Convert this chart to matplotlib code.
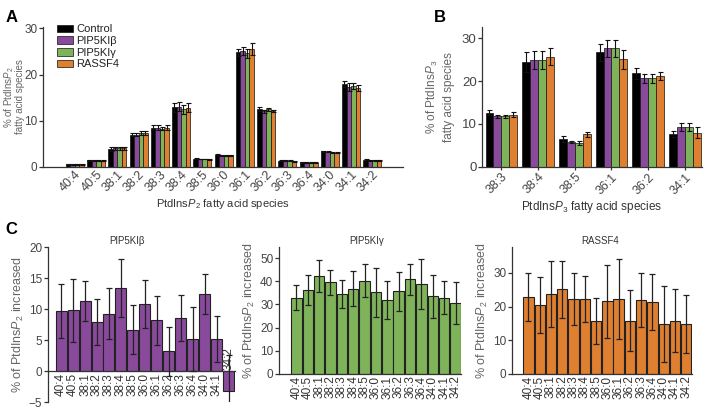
import matplotlib
matplotlib.use("Agg")
import matplotlib.pyplot as plt
import numpy as np

plt.rcParams['font.family'] = ['Liberation Sans', 'DejaVu Sans']
plt.rcParams['mathtext.fontset'] = 'custom'
plt.rcParams['mathtext.rm'] = 'Liberation Sans'
plt.rcParams['mathtext.it'] = 'Liberation Sans:italic'

# groups / colours
groups = ['Control', 'PIP5KIβ', 'PIP5KIγ', 'RASSF4']
colors = ['#000000', '#8a4a9c', '#7fb35a', '#df7f30']

# panel A: PtdInsP2 species (% of total)
species_a = ['40:4', '40:5', '38:1', '38:2', '38:3', '38:4', '38:5', '36:0',
             '36:1', '36:2', '36:3', '36:4', '34:0', '34:1', '34:2']
a_control = [0.6, 1.4, 3.8, 7.0, 8.5, 12.9, 1.8, 2.6, 24.8, 12.5, 1.3, 1.0, 3.4, 17.9, 1.5]
a_beta = [0.6, 1.3, 4.0, 7.0, 8.5, 13.0, 1.7, 2.5, 25.1, 12.0, 1.3, 0.9, 3.3, 17.3, 1.3]
a_gamma = [0.6, 1.3, 4.0, 7.3, 8.3, 12.5, 1.7, 2.5, 24.6, 12.5, 1.3, 0.9, 3.2, 17.5, 1.4]
a_rassf = [0.6, 1.3, 4.0, 7.3, 8.5, 12.8, 1.6, 2.5, 25.5, 12.1, 1.2, 0.9, 3.1, 17.1, 1.4]
a_control_err = [0.1, 0.1, 0.4, 0.4, 0.5, 1.0, 0.1, 0.1, 0.7, 0.5, 0.1, 0.1, 0.1, 0.7, 0.1]
a_beta_err = [0.1, 0.1, 0.4, 0.4, 0.5, 1.0, 0.1, 0.1, 0.8, 0.4, 0.1, 0.1, 0.1, 0.8, 0.1]
a_gamma_err = [0.1, 0.1, 0.4, 0.4, 0.4, 1.0, 0.1, 0.1, 1.0, 0.3, 0.1, 0.1, 0.1, 0.6, 0.1]
a_rassf_err = [0.1, 0.1, 0.4, 0.4, 0.5, 1.0, 0.1, 0.1, 1.3, 0.3, 0.1, 0.1, 0.1, 0.6, 0.1]

# panel B: PtdInsP3 species
species_b = ['38:3', '38:4', '38:5', '36:1', '36:2', '34:1']
b_control = [12.6, 24.5, 6.6, 26.7, 21.8, 7.6]
b_beta = [11.8, 24.9, 5.8, 27.6, 20.6, 9.3]
b_gamma = [11.8, 24.9, 5.5, 27.6, 20.6, 9.3]
b_rassf = [12.2, 25.7, 7.6, 25.1, 21.2, 8.0]
b_control_err = [0.6, 2.3, 0.7, 2.0, 1.3, 0.7]
b_beta_err = [0.3, 2.1, 0.2, 2.0, 1.0, 0.9]
b_gamma_err = [0.3, 2.1, 0.5, 2.0, 1.0, 0.9]
b_rassf_err = [0.6, 2.0, 0.6, 2.2, 0.9, 1.2]

# panel C: % increase of PtdInsP2 species
c_beta = [9.7, 9.8, 11.3, 7.9, 9.3, 13.4, 6.7, 10.8, 8.2, 3.2, 8.6, 5.2, 12.4, 5.2, -3.1]
c_beta_err = [4.4, 5.1, 3.2, 3.7, 4.1, 4.7, 3.9, 3.9, 4.0, 4.0, 3.7, 5.1, 3.2, 3.7, 5.8]
c_gamma = [32.9, 36.2, 42.2, 39.5, 34.6, 36.9, 40.2, 35.2, 32.1, 35.7, 40.8, 38.9, 33.6, 33.0, 30.8]
c_gamma_err = [5.4, 6.5, 6.8, 5.5, 6.1, 7.4, 7.1, 10.7, 8.2, 8.3, 6.8, 10.8, 9.3, 7.3, 9.1]
c_rassf = [22.9, 20.6, 23.7, 25.1, 22.3, 22.3, 15.7, 21.6, 22.3, 15.8, 22.0, 21.4, 14.8, 15.8, 14.8]
c_rassf_err = [7.2, 8.3, 9.8, 8.4, 7.7, 6.9, 6.9, 10.8, 11.8, 9.0, 8.1, 8.3, 11.3, 9.3, 8.6]

p2 = r'PtdIns$\it{P}$$_2$'
p3 = r'PtdIns$\it{P}$$_3$'
tick_col = '#444444'
lab_col = '#666666'
spine_col = '#333333'

fig = plt.figure(figsize=(7.06, 4.09), dpi=100)


def style(ax):
    for s in ['top', 'right']:
        ax.spines[s].set_visible(False)
    for s in ['left', 'bottom']:
        ax.spines[s].set_color(spine_col)
        ax.spines[s].set_linewidth(0.9)
    ax.tick_params(colors=spine_col, labelcolor=tick_col, width=0.9, length=3, pad=1)


def grouped(ax, species, vals, errs, width=0.85):
    x = np.arange(len(species))
    bw = width / 4
    for k in range(4):
        pos = x - width / 2 + bw * (k + 0.5)
        ax.bar(pos, vals[k], bw, color=colors[k], edgecolor='#111111', linewidth=0.5,
               label=groups[k], zorder=2)
        ax.errorbar(pos, vals[k], yerr=errs[k], fmt='none', ecolor='#111111',
                    elinewidth=0.8, capsize=1.8, capthick=0.8, zorder=3)
    ax.set_xticks(x)
    ax.set_xticklabels(species, rotation=45, ha='right', va='top',
                       rotation_mode='anchor', fontsize=9)


# ---- A ----
axA = fig.add_axes([0.061, 0.592, 0.510, 0.342])
style(axA)
grouped(axA, species_a, [a_control, a_beta, a_gamma, a_rassf],
        [a_control_err, a_beta_err, a_gamma_err, a_rassf_err])
axA.set_xlim(-1.5, 15.45)
axA.set_ylim(0, 30.3)
axA.set_yticks([0, 10, 20, 30])
axA.tick_params(axis='y', labelsize=8.5)
axA.tick_params(axis='x', length=0)
# two-line y label drawn as two texts so it fits left of the ticks
fig.text(0.0125, 0.763, '% of ' + p2, rotation=90, ha='center', va='center',
         fontsize=7, color=lab_col)
fig.text(0.0285, 0.763, 'fatty acid species', rotation=90, ha='center', va='center',
         fontsize=7, color=lab_col)
axA.set_xlabel(p2 + ' fatty acid species', fontsize=8, color='#333333', labelpad=2)
leg = axA.legend(loc='upper left', bbox_to_anchor=(0.025, 1.05), frameon=False,
                 fontsize=8, handlelength=1.5, handleheight=0.7, handletextpad=0.3,
                 labelspacing=0.15, borderaxespad=0)
for t in leg.get_texts():
    t.set_color('#222222')

# ---- B ----
axB = fig.add_axes([0.683, 0.592, 0.311, 0.342])
style(axB)
grouped(axB, species_b, [b_control, b_beta, b_gamma, b_rassf],
        [b_control_err, b_beta_err, b_gamma_err, b_rassf_err], width=0.86)
axB.set_xlim(-0.52, 5.46)
axB.set_ylim(0, 32.6)
axB.set_yticks([0, 10, 20, 30])
axB.tick_params(axis='y', labelsize=9.5)
axB.tick_params(axis='x', length=2)
axB.set_ylabel('% of ' + p3 + '\nfatty acid species', fontsize=8.5, color=lab_col,
               linespacing=1.3)
axB.yaxis.set_label_coords(-0.125, 0.5)
axB.set_xlabel(p3 + ' fatty acid species', fontsize=8.5, color='#333333', labelpad=2)

# ---- C ----
c_panels = [
    ('PIP5KIβ', c_beta, c_beta_err, colors[1], [0.068, 0.016, 0.265, 0.38],
     (-1.1, 14.55), (-5, 20), [-5, 0, 5, 10, 15, 20], 0.42),
    ('PIP5KIγ', c_gamma, c_gamma_err, colors[2], [0.395, 0.0856, 0.258, 0.3104],
     (-1.54, 14.48), (0, 54.8), [0, 10, 20, 30, 40, 50], 0.48),
    ('RASSF4', c_rassf, c_rassf_err, colors[3], [0.725, 0.0856, 0.255, 0.3104],
     (-1.47, 14.5), (0, 37.7), [0, 10, 20, 30], 0.49),
]
for title, vals, errs, col, rect, xl, yl, yt, tx in c_panels:
    ax = fig.add_axes(rect)
    style(ax)
    x = np.arange(len(species_a))
    ax.bar(x, vals, 0.92, color=col, edgecolor='#222222', linewidth=0.8, zorder=2)
    ax.errorbar(x, vals, yerr=errs, fmt='none', ecolor='#222222', elinewidth=0.9,
                capsize=2.5, capthick=0.9, zorder=3)
    ax.set_xlim(*xl)
    ax.set_ylim(*yl)
    ax.set_yticks(yt)
    ax.tick_params(axis='y', labelsize=8.5)
    ax.spines['bottom'].set_position(('data', 0))
    ax.set_xticks([])
    for i, (lab, v) in enumerate(zip(species_a, vals)):
        if v >= 0:
            ax.text(i, -0.012 * (yl[1] - yl[0]), lab, rotation=90, ha='center', va='top',
                    fontsize=8.5, color='#333333', clip_on=False)
        else:
            ax.text(i, 0.012 * (yl[1] - yl[0]), lab, rotation=90, ha='center', va='bottom',
                    fontsize=8.5, color='#333333')
    ax.set_ylabel('% of ' + p2 + ' increased', fontsize=9, color=lab_col, labelpad=2)
    ax.text(tx, 1.005, title, transform=ax.transAxes, ha='center', va='bottom',
            fontsize=7, color='#333333')

fig.text(0.008, 0.975, 'A', fontsize=12, fontweight='bold', va='top')
fig.text(0.615, 0.975, 'B', fontsize=12, fontweight='bold', va='top')
fig.text(0.008, 0.458, 'C', fontsize=12, fontweight='bold', va='top')

fig.savefig('out.png', dpi=100)
